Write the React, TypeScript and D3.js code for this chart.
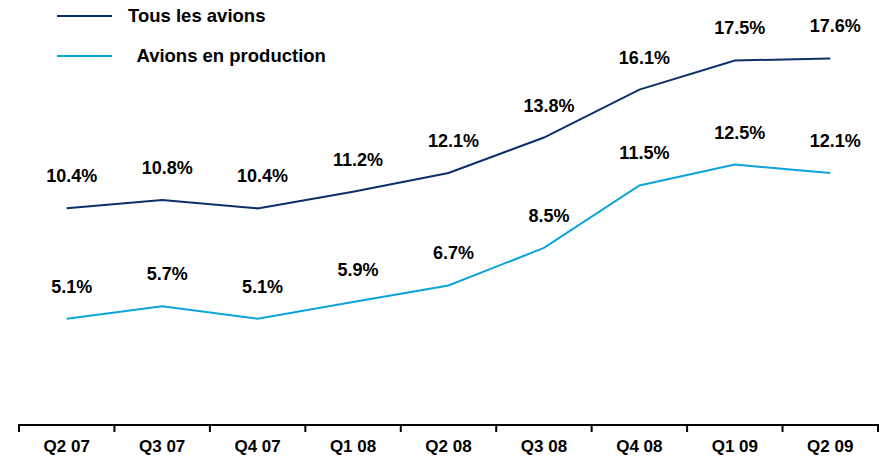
import React, { useEffect, useRef } from 'react';
import * as d3 from 'd3';

const quarters = ['Q2 07', 'Q3 07', 'Q4 07', 'Q1 08', 'Q2 08', 'Q3 08', 'Q4 08', 'Q1 09', 'Q2 09'];
const tousLesAvions = [10.4, 10.8, 10.4, 11.2, 12.1, 13.8, 16.1, 17.5, 17.6];
const avionsEnProduction = [5.1, 5.7, 5.1, 5.9, 6.7, 8.5, 11.5, 12.5, 12.1];

const seriesNames = ['Tous les avions', ' Avions en production'];
const seriesColors = ['#0b3069', '#0ba3da'];

export default function App() {
  const svgRef = useRef<SVGSVGElement>(null);

  const width = 884;
  const height = 465;

  useEffect(() => {
    const svg = d3.select(svgRef.current);
    svg.selectAll('*').remove();

    const font = 'Arial, "Liberation Sans", sans-serif';

    // échelles
    const xScale = d3.scaleBand().domain(quarters).range([19, 878]).padding(0);
    const yScale = d3.scaleLinear().domain([0, 20]).range([425, 8.4]);

    // axe x
    const axis = svg.append('g');
    axis
      .append('line')
      .attr('x1', 19)
      .attr('x2', 878)
      .attr('y1', 425)
      .attr('y2', 425)
      .attr('stroke', '#000')
      .attr('stroke-width', 2);

    const edges = quarters.map((q) => xScale(q) as number).concat([878]);
    axis
      .selectAll('line.tick')
      .data(edges)
      .enter()
      .append('line')
      .attr('class', 'tick')
      .attr('x1', (d) => d)
      .attr('x2', (d) => d)
      .attr('y1', 424)
      .attr('y2', 432)
      .attr('stroke', '#000')
      .attr('stroke-width', 2);

    axis
      .selectAll('text')
      .data(quarters)
      .enter()
      .append('text')
      .text((d) => d)
      .attr('x', (d) => (xScale(d) as number) + xScale.bandwidth() / 2)
      .attr('y', 452)
      .attr('text-anchor', 'middle')
      .attr('font-family', font)
      .attr('font-weight', 'bold')
      .attr('font-size', '17px')
      .attr('fill', '#000');

    const cx = (i: number) => (xScale(quarters[i]) as number) + xScale.bandwidth() / 2;

    [tousLesAvions, avionsEnProduction].forEach((values, s) => {
      const line = d3
        .line<number>()
        .x((d, i) => cx(i))
        .y((d) => yScale(d));

      svg
        .append('path')
        .datum(values)
        .attr('d', line)
        .attr('fill', 'none')
        .attr('stroke', seriesColors[s])
        .attr('stroke-width', 2);

      // étiquettes de valeur
      svg
        .append('g')
        .selectAll('text')
        .data(values)
        .enter()
        .append('text')
        .text((d) => d.toFixed(1) + '%')
        .attr('x', (d, i) => cx(i) + 5)
        .attr('y', (d) => yScale(d) - 26)
        .attr('text-anchor', 'middle')
        .attr('font-family', font)
        .attr('font-weight', 'bold')
        .attr('font-size', '18px')
        .attr('fill', '#000');
    });

    // légende
    const legend = svg.append('g');
    const legendY = [16, 56];
    const textX = [128, 132];
    seriesNames.forEach((name, i) => {
      legend
        .append('line')
        .attr('x1', 57)
        .attr('x2', 112)
        .attr('y1', legendY[i])
        .attr('y2', legendY[i])
        .attr('stroke', seriesColors[i])
        .attr('stroke-width', 2);
      legend
        .append('text')
        .text(name)
        .attr('x', textX[i])
        .attr('y', legendY[i] + 6)
        .attr('xml:space', 'preserve')
        .style('white-space', 'pre')
        .attr('font-family', font)
        .attr('font-weight', 'bold')
        .attr('font-size', '18.5px')
        .attr('fill', '#000');
    });
  }, []);

  return (
    <div style={{ position: 'absolute', left: 0, top: 0 }}>
      <svg ref={svgRef} width={width} height={height} style={{ display: 'block', background: '#fff' }}></svg>
    </div>
  );
}
